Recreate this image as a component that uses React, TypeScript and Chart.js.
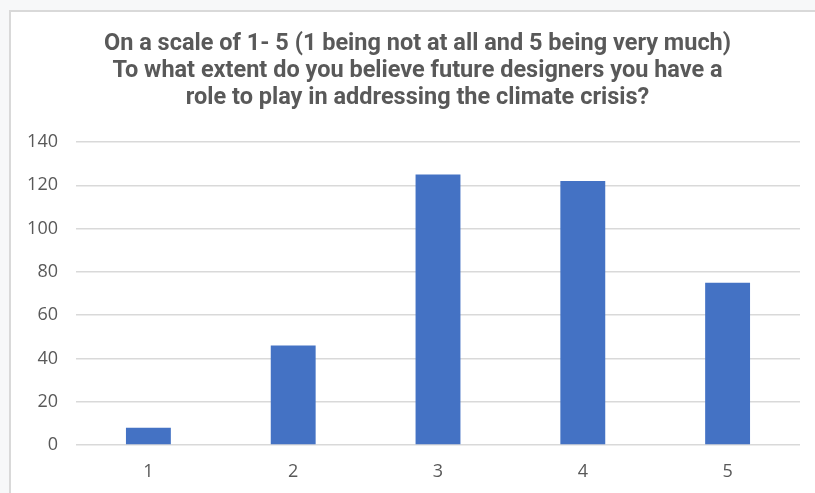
import React, { useEffect, useRef } from "react";
import { Chart, registerables } from "chart.js";

Chart.register(...registerables);

const categories = ["1", "2", "3", "4", "5"];
const responses = [8, 46, 125, 122, 75];
const titleLines = [
  "On a scale of 1- 5 (1 being not at all and 5 being very much)",
  "To what extent do you believe future designers you have a",
  "role to play in addressing the climate crisis?",
];

export default function App() {
  const ref = useRef<HTMLCanvasElement | null>(null);

  useEffect(() => {
    if (!ref.current) return;
    const chart = new Chart(ref.current, {
      type: "bar",
      data: {
        labels: categories,
        datasets: [
          {
            data: responses,
            backgroundColor: "#4472C4",
            borderWidth: 0,
            categoryPercentage: 1,
            barPercentage: 0.31,
          },
        ],
      },
      options: {
        animation: false,
        responsive: false,
        layout: { padding: { left: 20, right: 0, top: 0, bottom: 0 } },
        plugins: {
          legend: { display: false },
          tooltip: { enabled: false },
          title: {
            display: true,
            text: titleLines,
            color: "#595959",
            font: { family: "Roboto", size: 23.5, weight: "bold", lineHeight: 1.15 },
            padding: { top: 31, bottom: 30 },
          },
        },
        scales: {
          x: {
            grid: { display: false, drawTicks: false },
            border: { display: false },
            ticks: {
              color: "#595959",
              font: { family: "Open Sans", size: 18 },
              padding: 16,
            },
            afterFit: (s: any) => {
              s.height = 48;
            },
          },
          y: {
            min: 0,
            max: 140,
            ticks: {
              stepSize: 20,
              color: "#595959",
              font: { family: "Open Sans", size: 18 },
              padding: 18,
            },
            grid: { color: "#d9d9d9", lineWidth: 1.5, drawTicks: false },
            border: { display: false },
            afterFit: (s: any) => {
              s.width = 56;
            },
          },
          yr: {
            position: "right",
            display: true,
            ticks: { display: false },
            grid: { display: false, drawTicks: false },
            border: { display: false },
            afterFit: (s: any) => {
              s.width = 15;
            },
          },
        },
      },
    });
    return () => chart.destroy();
  }, []);

  return (
    <div
      style={{
        position: "fixed",
        left: 0,
        top: 0,
        width: 815,
        height: 493,
        background: "#f7f8f9",
        overflow: "hidden",
      }}
    >
      <div
        style={{
          position: "absolute",
          left: 9,
          top: 10,
          width: 830,
          height: 500,
          border: "2px solid #d9d9d9",
          background: "#ffffff",
        }}
      />
      <canvas
        ref={ref}
        width={815}
        height={493}
        style={{ position: "absolute", left: 0, top: 0, width: 815, height: 493 }}
      />
    </div>
  );
}
